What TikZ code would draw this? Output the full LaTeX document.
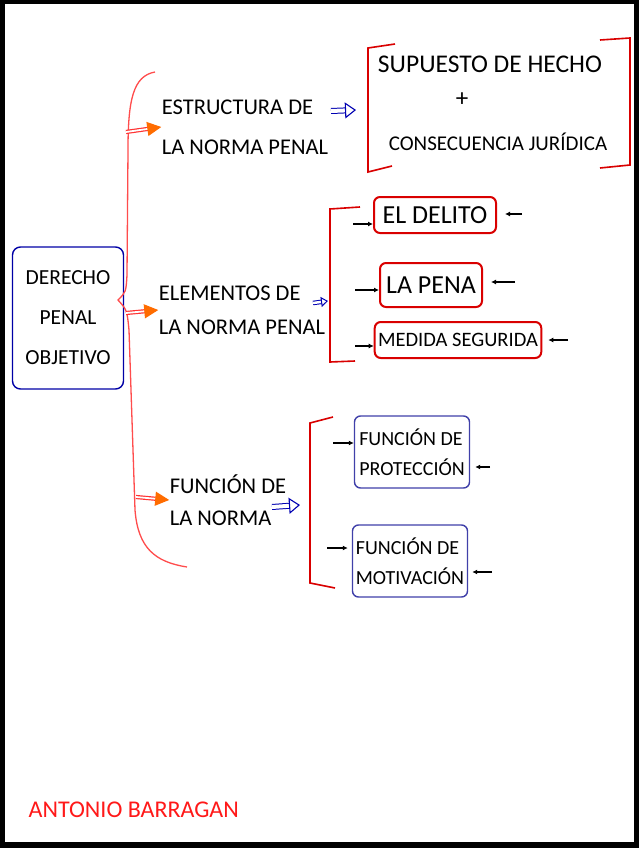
\documentclass[tikz,border=0pt]{standalone}
\usepackage{fontspec}
\setmainfont{Carlito}
\usetikzlibrary{arrows.meta,positioning}

\begin{document}
\begin{tikzpicture}[
  x=1pt, y=-1pt,
  line width=1.3pt,
  hand/.style={font=\fontsize{22.5}{40}\selectfont, align=left, inner sep=0pt},
  rootbox/.style={rectangle, rounded corners=8pt, draw=blue!65!black, line width=1.4pt, minimum width=111pt, minimum height=142pt, align=center, font=\fontsize{21.5}{40}\selectfont},
  redbox/.style={rectangle, rounded corners=6pt, draw=red!85!black, line width=2pt, minimum height=36pt, font=\fontsize{26}{28}\selectfont},
  bluebox/.style={rectangle, rounded corners=6pt, draw=blue!55!black!75, line width=1.4pt, minimum width=115pt, minimum height=72pt, align=left, font=\fontsize{20}{30}\selectfont},
  bracket/.style={draw=red!85!black, line width=1.6pt},
  fatarrow/.style={draw=red!80, line width=1.2pt, double=white, double distance=1.8pt, -{Triangle[length=14pt,width=14pt,color=orange!85!red,fill=orange!85!red]}},
  hollowarrow/.style={draw=blue!70!black, line width=1pt, double=white, double distance=4pt, -{Triangle[open, length=11pt, width=16pt, line width=1.1pt]}},
  tinyarrow/.style={draw=black, line width=1.3pt, -{Latex[length=5pt,width=5pt]}}
]
\useasboundingbox (0,0) rectangle (639,848);
\fill[black] (0,0) rectangle (639,848);
\fill[white] (5,4) rectangle (634,842);

% root
\node[rootbox] (root) at (68,318) {DERECHO\\PENAL\\OBJETIVO};

% big brace
\coordinate (b1) at (126,132);
\coordinate (b2) at (126,313);
\coordinate (b3) at (136,497);
\draw[draw=red!70] (155,72) .. controls (133,76) and (128,100) .. (128,150)
  -- (127,275) .. controls (126,292) .. (118,300) .. controls (127,310) .. (129,330)
  -- (135,510) .. controls (138,548) and (155,562) .. (187,567);

% branches
\node[hand] (estructura) at (245,127) {ESTRUCTURA DE\\LA NORMA PENAL};
\node[hand, font=\fontsize{22.5}{34}\selectfont] (elementos) at (242,310) {ELEMENTOS DE\\LA NORMA PENAL};
\node[hand, font=\fontsize{22.5}{32}\selectfont] (funcion) at (228,500) {FUNCIÓN DE\\LA NORMA};

\draw[fatarrow] (b1) -- (estructura.west);
\draw[fatarrow] (b2) -- (elementos.west);
\draw[fatarrow] (b3) -- (funcion.west);

% first bracket
\draw[bracket] (395,44) -- (368,48) -- (368,172) -- (392,166);
\draw[bracket] (600,40) -- (630,38) -- (630,165) -- (600,168);
\node[font=\fontsize{25.5}{28}\selectfont] (supuesto) at (490,64) {SUPUESTO DE HECHO};
\node[font=\fontsize{25}{28}\selectfont] (mas) at (462,100) {+};
\node[font=\fontsize{21}{24}\selectfont] (consecuencia) at (498,142) {CONSECUENCIA JURÍDICA};
\coordinate (e1) at (331,111);
\coordinate (s1) at (356,110);
\draw[hollowarrow] (e1) -- (s1);

% second bracket
\draw[bracket] (360,207) -- (330,209) -- (330,362) -- (355,361);
\coordinate (e2) at (313,303);
\coordinate (s2) at (328,301);
\draw[hollowarrow, double distance=2.5pt, -{Triangle[open, length=7pt, width=10pt, line width=1pt]}] (e2) -- (s2);
\node[redbox, minimum width=122pt] (delito) at (435,215) {EL DELITO};
\node[redbox, minimum width=102pt, minimum height=44pt] (pena) at (431,285) {LA PENA};
\node[redbox, minimum width=166pt, font=\fontsize{20.5}{24}\selectfont] (medida) at (458,340) {MEDIDA SEGURIDA};
\coordinate (l1) at (353,224);
\coordinate (l2) at (355,290);
\coordinate (l3) at (355,346);
\coordinate (r1) at (522,214);
\coordinate (r2) at (515,282);
\coordinate (r3) at (568,340);
\draw[tinyarrow] (l1) -- (delito.west |- l1);
\draw[tinyarrow] (l2) -- (pena.west |- l2);
\draw[tinyarrow] (l3) -- (medida.west |- l3);
\draw[tinyarrow] (r1) -- ([xshift=8pt]delito.east |- r1);
\draw[tinyarrow] (r2) -- ([xshift=8pt]pena.east |- r2);
\draw[tinyarrow] (r3) -- ([xshift=6pt]medida.east |- r3);

% third bracket
\draw[bracket] (333,417) -- (310,423) -- (310,583) -- (335,588);
\coordinate (e3) at (272,507);
\coordinate (s3) at (300,505);
\draw[hollowarrow] (e3) -- (s3);
\node[bluebox] (proteccion) at (412,452) {FUNCIÓN DE\\PROTECCIÓN};
\node[bluebox] (motivacion) at (410,561) {FUNCIÓN DE\\MOTIVACIÓN};
\coordinate (l4) at (333,443);
\coordinate (l5) at (327,548);
\coordinate (r4) at (490,467);
\coordinate (r5) at (492,572);
\draw[tinyarrow] (l4) -- (proteccion.west |- l4);
\draw[tinyarrow] (l5) -- ([xshift=-4pt]motivacion.west |- l5);
\draw[tinyarrow] (r4) -- ([xshift=5pt]proteccion.east |- r4);
\draw[tinyarrow] (r5) -- ([xshift=4pt]motivacion.east |- r5);

% author
\node[anchor=west, text=red!90, font=\fontsize{24}{28}\selectfont, inner sep=0pt] (autor) at (28,810) {ANTONIO BARRAGAN};
\end{tikzpicture}
\end{document}
